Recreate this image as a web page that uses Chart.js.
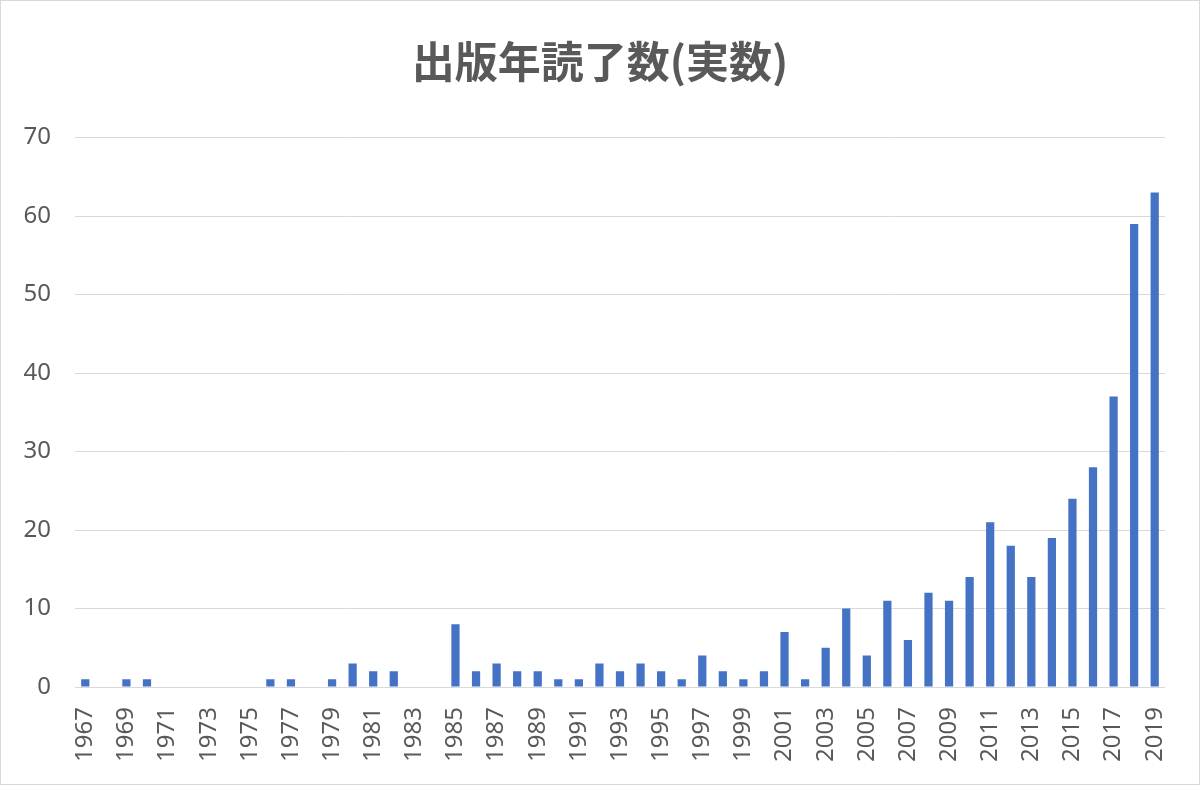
<!DOCTYPE html>
<html>
<head>
<meta charset="utf-8">
<script src="https://cdn.jsdelivr.net/npm/chart.js@4"></script>
<style>
  html, body { margin: 0; padding: 0; background: #fff; }
  #wrap { width: 1198px; height: 783px; border: 1px solid #d9d9d9; }
</style>
</head>
<body>
<div id="wrap"><canvas id="readChart" width="1198" height="783"></canvas></div>
<script>
// 出版年ごとの読了数
const years = [];
for (let y = 1967; y <= 2019; y++) years.push(String(y));

const counts = [
    1, 0, 1, 1, 0, 0, 0, 0, 0, 1,   // 1967-1976
    1, 0, 1, 3, 2, 2, 0, 0, 8, 2,   // 1977-1986
    3, 2, 2, 1, 1, 3, 2, 3, 2, 1,   // 1987-1996
    4, 2, 1, 2, 7, 1, 5, 10, 4, 11, // 1997-2006
    6, 12, 11, 14, 21, 18, 14, 19, 24, 28, // 2007-2016
    37, 59, 63                      // 2017-2019
];

const yTicks = [0, 10, 20, 30, 40, 50, 60, 70];

const textColor = '#595959';
const gridColor = '#d9d9d9';

// keep the title centred on the whole canvas, not on the padded area
const centerTitle = {
    id: 'centerTitle',
    afterLayout: (chart) => {
        const t = chart.titleBlock;
        if (t) {
            t.left = 0;
            t.right = chart.width;
            t.width = chart.width;
        }
    }
};

const ctx = document.getElementById('readChart').getContext('2d');
new Chart(ctx, {
    type: 'bar',
    data: {
        labels: years,
        datasets: [{
            label: '読了数',
            data: counts,
            backgroundColor: '#4472c4',
            borderWidth: 0,
            barPercentage: 0.8,
            categoryPercentage: 0.5
        }]
    },
    plugins: [centerTitle],
    options: {
        responsive: false,
        animation: false,
        layout: { padding: { left: 0, right: 34, top: 0, bottom: 0 } },
        plugins: {
            legend: { display: false },
            tooltip: { enabled: false },
            title: {
                display: true,
                text: '出版年読了数(実数)',
                color: textColor,
                font: { family: '"Noto Sans CJK JP", sans-serif', size: 43, weight: 'bold' },
                padding: { top: 35, bottom: 50 }
            }
        },
        scales: {
            x: {
                grid: { display: false },
                border: { display: false },
                ticks: {
                    autoSkip: false,
                    minRotation: 90,
                    maxRotation: 90,
                    padding: 12,
                    color: textColor,
                    font: { family: '"Noto Sans", sans-serif', size: 24 },
                    callback: function (val, i) {
                        return i % 2 === 0 ? this.getLabelForValue(val) : '';
                    }
                },
                afterFit: (scale) => { scale.height = 97; }
            },
            y: {
                min: 0,
                max: 70,
                afterBuildTicks: (scale) => {
                    scale.ticks = yTicks.map(v => ({ value: v }));
                },
                grid: { color: gridColor, lineWidth: 1, drawTicks: false },
                border: { display: false },
                ticks: {
                    padding: 24,
                    color: textColor,
                    font: { family: '"Noto Sans", sans-serif', size: 24 }
                },
                afterFit: (scale) => { scale.width = 74; }
            }
        }
    }
});
</script>
</body>
</html>
